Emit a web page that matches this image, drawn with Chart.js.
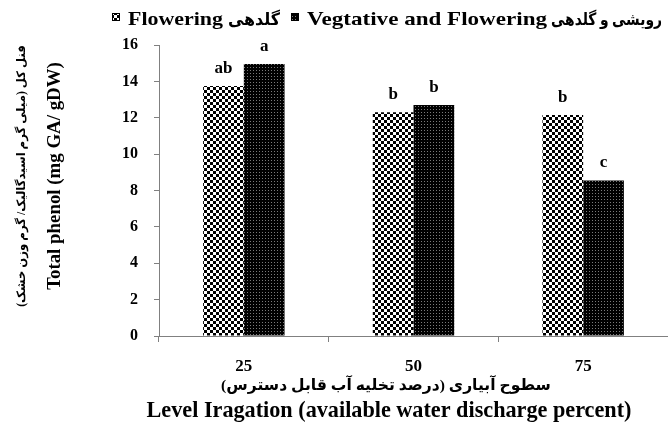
<!DOCTYPE html>
<html>
<head>
<meta charset="utf-8">
<script src="https://cdn.jsdelivr.net/npm/chart.js@4.4.1/dist/chart.umd.min.js"></script>
<style>
html,body{margin:0;padding:0;background:#fff;}
#wrap{width:668px;height:424px;}
</style>
</head>
<body>
<div id="wrap"><canvas id="c" width="668" height="424"></canvas></div>
<script>
const categories = ['25', '50', '75'];
const flowering = [13.75, 12.3, 12.15];
const vegFlowering = [14.95, 12.7, 8.55];
const floweringLetters = ['ab', 'b', 'b'];
const vegLetters = ['a', 'b', 'c'];
const legendEn = ['Flowering', 'Vegtative and Flowering'];
const legendFa = ['گلدهی', 'رویشی و گلدهی'];
const yTitleFa = 'فنل کل (میلی گرم اسیدگالیک/ گرم وزن خشک)';
const yTitleEn = 'Total phenol (mg GA/ gDW)';
const xTitleFa = 'سطوح آبیاری (درصد تخلیه آب قابل دسترس)';
const xTitleEn = 'Level Iragation (available water discharge percent)';

const SERIF = '"Liberation Serif", "DejaVu Serif", "DejaVu Sans", serif';
const canvas = document.getElementById('c');
const ctx = canvas.getContext('2d');

function checkerPattern(){
  const c = document.createElement('canvas'); c.width = 6; c.height = 6;
  const g = c.getContext('2d');
  g.fillStyle = '#fff'; g.fillRect(0,0,6,6);
  g.fillStyle = '#000'; g.fillRect(0,0,3,3); g.fillRect(3,3,3,3);
  return ctx.createPattern(c, 'repeat');
}
function darkPattern(){
  const c = document.createElement('canvas'); c.width = 3; c.height = 3;
  const g = c.getContext('2d');
  g.fillStyle = '#000'; g.fillRect(0,0,3,3);
  g.fillStyle = '#7a7a7a'; g.fillRect(1,1,1,1);
  return ctx.createPattern(c, 'repeat');
}
const patA = checkerPattern();
const patB = darkPattern();

function fitFont(c, text, weight, target, base){
  c.font = weight + ' ' + base + 'px ' + SERIF;
  const w = c.measureText(text).width;
  const size = base * target / w;
  return weight + ' ' + size.toFixed(2) + 'px ' + SERIF;
}
// draw text with given font size, stretched horizontally to a target width
function drawStretched(c, text, x, y, width, size){
  c.save();
  c.font = 'bold ' + size + 'px ' + SERIF;
  const w = c.measureText(text).width;
  c.translate(x, y);
  c.scale(width / w, 1);
  c.textAlign = 'left';
  c.fillText(text, 0, 0);
  c.restore();
}

const decor = {
  id: 'decor',
  afterDatasetsDraw(chart){
    const c = chart.ctx;
    c.save();
    c.fillStyle = '#000';
    c.textAlign = 'center';
    c.textBaseline = 'alphabetic';
    c.font = 'bold 17px ' + SERIF;
    const letters = [floweringLetters, vegLetters];
    chart.data.datasets.forEach((ds, di) => {
      const meta = chart.getDatasetMeta(di);
      meta.data.forEach((el, i) => {
        c.fillText(letters[di][i], el.x, el.y - 13);
      });
    });
    c.restore();
  },
  afterDraw(chart){
    const c = chart.ctx;
    c.save();
    c.fillStyle = '#000';
    c.textBaseline = 'alphabetic';
    // legend
    const base = 25;
    const items = [
      {bx:112, pat:patA, ex:128, ew:95, fx:228, fw:52},
      {bx:291, pat:patB, ex:307, ew:240, fx:551, fw:111}
    ];
    items.forEach((b, i) => {
      c.fillStyle = b.pat;
      c.fillRect(b.bx, 13, 8, 8);
      c.strokeStyle = '#000'; c.lineWidth = 1;
      c.strokeRect(b.bx + 0.5, 13.5, 7, 7);
      c.fillStyle = '#000';
      drawStretched(c, legendEn[i], b.ex, base, b.ew, 19);
      drawStretched(c, legendFa[i], b.fx, base, b.fw, 17);
    });
    // y titles
    c.textAlign = 'center';
    c.textBaseline = 'middle';
    c.save();
    c.translate(22, 176);
    c.rotate(-Math.PI/2);
    c.font = fitFont(c, yTitleFa, 'bold', 262, 15);
    c.fillText(yTitleFa, 0, 0);
    c.restore();
    c.save();
    c.translate(55, 176);
    c.rotate(-Math.PI/2);
    c.font = fitFont(c, yTitleEn, 'bold', 228, 16);
    c.fillText(yTitleEn, 0, 0);
    c.restore();
    // x titles
    c.font = fitFont(c, xTitleFa, 'bold', 330, 15);
    c.fillText(xTitleFa, 386, 386);
    c.font = fitFont(c, xTitleEn, 'bold', 485, 17);
    c.fillText(xTitleEn, 389, 411);
    c.restore();
  }
};

new Chart(canvas, {
  type: 'bar',
  data: {
    labels: categories,
    datasets: [
      { label: legendEn[0] + ' ' + legendFa[0], data: flowering, backgroundColor: patA, borderWidth: 0 },
      { label: legendEn[1] + ' ' + legendFa[1], data: vegFlowering, backgroundColor: patB, borderWidth: 0 }
    ]
  },
  options: {
    responsive: false,
    animation: false,
    devicePixelRatio: 1,
    layout: { padding: { top: 45, left: 0, right: -4, bottom: 0 } },
    datasets: { bar: { categoryPercentage: 0.48, barPercentage: 1.0 } },
    plugins: { legend: { display: false }, tooltip: { enabled: false } },
    scales: {
      x: {
        grid: { offset: true, drawOnChartArea: false, drawTicks: true, tickLength: 6, color: '#808080' },
        border: { color: '#808080', width: 1 },
        ticks: { color: '#000', font: { family: SERIF, size: 17, weight: 'bold' }, padding: 14 },
        afterFit(scale){ scale.height = 88; }
      },
      y: {
        min: 0, max: 16,
        grid: { drawOnChartArea: false, drawTicks: true, tickLength: 5, color: '#808080' },
        border: { color: '#808080', width: 1 },
        ticks: { stepSize: 2, color: '#000', font: { family: SERIF, size: 16, weight: 'bold' }, padding: 16 },
        afterFit(scale){ scale.width = 159; }
      }
    }
  },
  plugins: [decor]
});
</script>
</body>
</html>
